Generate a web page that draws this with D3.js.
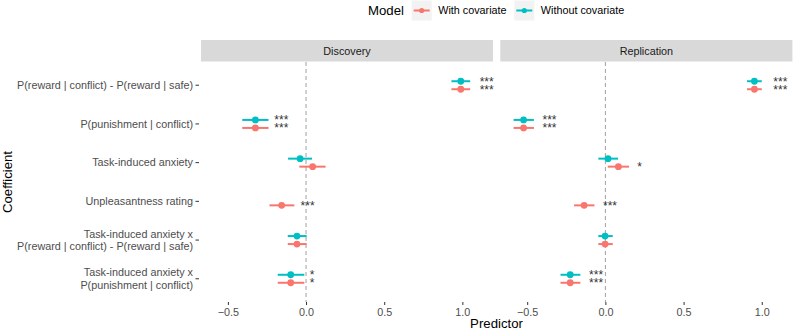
<!DOCTYPE html>
<html><head><meta charset="utf-8">
<script src="https://cdn.jsdelivr.net/npm/d3@7"></script>
<style>body{margin:0;background:#fff}svg{display:block}text{font-family:"Liberation Sans",Arial,Helvetica,sans-serif}</style>
</head><body><svg id="c" width="793" height="332"></svg>
<script>
const coefficients = [
  "P(reward | conflict) - P(reward | safe)",
  "P(punishment | conflict)",
  "Task-induced anxiety",
  "Unpleasantness rating",
  "Task-induced anxiety x\nP(reward | conflict) - P(reward | safe)",
  "Task-induced anxiety x\nP(punishment | conflict)"
];
const panels = ["Discovery", "Replication"];
const models = ["With covariate", "Without covariate"];
const modelColors = ["#F8766D", "#00BFC4"];
const xTicks = [-0.5, 0.0, 0.5, 1.0];

// Discovery
const discWithEst  = [0.99, -0.324, 0.042, -0.156, -0.058, -0.098];
const discWithLo   = [0.93, -0.408, -0.043, -0.234, -0.117, -0.181];
const discWithHi   = [1.05, -0.240, 0.125, -0.075, 0.004, -0.011];
const discWithSig  = ["***", "***", "", "***", "", "*"];
const discWoEst    = [0.99, -0.324, -0.038, null, -0.058, -0.098];
const discWoLo     = [0.93, -0.408, -0.115, null, -0.117, -0.181];
const discWoHi     = [1.05, -0.240, 0.038, null, 0.004, -0.011];
const discWoSig    = ["***", "***", "", "", "", "*"];
// Replication
const repWithEst   = [0.953, -0.523, 0.083, -0.136, -0.002, -0.225];
const repWithLo    = [0.906, -0.587, 0.015, -0.200, -0.045, -0.287];
const repWithHi    = [1.000, -0.457, 0.151, -0.070, 0.047, -0.160];
const repWithSig   = ["***", "***", "*", "***", "", "***"];
const repWoEst     = [0.953, -0.523, 0.017, null, -0.002, -0.225];
const repWoLo      = [0.906, -0.587, -0.045, null, -0.045, -0.287];
const repWoHi      = [1.000, -0.457, 0.081, null, 0.047, -0.160];
const repWoSig     = ["***", "***", "", "", "", "***"];

const panelData = [
  [[discWithEst, discWithLo, discWithHi, discWithSig], [discWoEst, discWoLo, discWoHi, discWoSig]],
  [[repWithEst, repWithLo, repWithHi, repWithSig], [repWoEst, repWoLo, repWoHi, repWoSig]]
];

const svg = d3.select("#c");
const panelTop = 62, panelBottom = 302, stripTop = 40;
const panelX = [[201, 493], [500.3, 792.4]];
const xDomain = [-0.672, 1.196];
const y = d3.scalePoint().domain(coefficients).range([panelTop, panelBottom]).padding(0.6);
const dodge = 4;
const starNudge = 0.121;
const FS = 10.8;

panels.forEach((p, pi) => {
  const x = d3.scaleLinear().domain(xDomain).range(panelX[pi]);
  const g = svg.append("g");
  // strip
  g.append("rect").attr("x", panelX[pi][0]).attr("y", stripTop).attr("width", panelX[pi][1]-panelX[pi][0]).attr("height", panelTop-stripTop-0.5).attr("fill", "#D9D9D9");
  g.append("text").attr("x", (panelX[pi][0]+panelX[pi][1])/2).attr("y", (stripTop+panelTop)/2).attr("dy", "0.35em").attr("text-anchor", "middle").attr("font-size", FS).attr("fill", "#1A1A1A").text(p);
  // zero line
  g.append("line").attr("x1", x(0)).attr("x2", x(0)).attr("y1", panelTop).attr("y2", panelBottom).attr("stroke", "#A0A0A0").attr("stroke-width", 1).attr("stroke-dasharray", "4,3");
  // x axis
  const ax = g.append("g").attr("transform", `translate(0,${panelBottom})`).call(d3.axisBottom(x).tickValues(xTicks).tickFormat(d3.format(".1f")).tickSize(3).tickPadding(3));
  ax.select(".domain").remove();
  ax.selectAll("line").attr("stroke", "#333");
  ax.selectAll("text").attr("font-size", FS).attr("fill", "#4D4D4D").attr("font-family", "Liberation Sans, Arial, sans-serif");
  // marks
  panelData[pi].forEach((m, mi) => {
    const [est, lo, hi, sig] = m;
    const off = mi === 0 ? dodge : -dodge;
    coefficients.forEach((c, ci) => {
      if (est[ci] === null) return;
      const yy = y(c) + off;
      g.append("line").attr("x1", x(lo[ci])).attr("x2", x(hi[ci])).attr("y1", yy).attr("y2", yy).attr("stroke", modelColors[mi]).attr("stroke-width", 2);
      g.append("circle").attr("cx", x(est[ci])).attr("cy", yy).attr("r", 3.4).attr("fill", modelColors[mi]);
      if (sig[ci]) g.append("text").attr("x", x(est[ci] + starNudge)).attr("y", yy + 4.5).attr("font-size", 12).attr("fill", "#333").text(sig[ci]);
    });
  });
});

// y axis labels
const yl = svg.append("g");
coefficients.forEach(c => {
  const yy = y(c);
  yl.append("line").attr("x1", 195.5).attr("x2", 199).attr("y1", yy).attr("y2", yy).attr("stroke", "#333");
  const lines = c.split("\n");
  const t = yl.append("text").attr("text-anchor", "end").attr("font-size", FS).attr("fill", "#4D4D4D");
  lines.forEach((ln, i) => {
    t.append("tspan").attr("x", 193).attr("y", yy + (i - (lines.length-1)/2) * 12.3).attr("dy", "0.35em").text(ln);
  });
});

// axis titles
svg.append("text").attr("x", 496.5).attr("y", 323).attr("dy", "0.35em").attr("text-anchor", "middle").attr("font-size", 13.2).attr("fill", "#000").text("Predictor");
svg.append("text").attr("transform", "translate(7,182) rotate(-90)").attr("dy", "0.35em").attr("text-anchor", "middle").attr("font-size", 13.2).attr("fill", "#000").text("Coefficient");

// legend
const lg = svg.append("g");
lg.append("text").attr("x", 368).attr("y", 10.5).attr("dy", "0.35em").attr("font-size", 13.2).attr("fill", "#000").text("Model");
const keyX = [411.7, 514.3];
models.forEach((m, i) => {
  lg.append("rect").attr("x", keyX[i]).attr("y", 0.5).attr("width", 20).attr("height", 20).attr("fill", "#F2F2F2");
  lg.append("line").attr("x1", keyX[i]+2).attr("x2", keyX[i]+18).attr("y1", 10.5).attr("y2", 10.5).attr("stroke", modelColors[i]).attr("stroke-width", 2);
  lg.append("circle").attr("cx", keyX[i]+10).attr("cy", 10.5).attr("r", 2.6).attr("fill", modelColors[i]);
  lg.append("text").attr("x", keyX[i]+26.5).attr("y", 10.5).attr("dy", "0.35em").attr("font-size", FS).attr("fill", "#000").text(m);
});
</script></body></html>
